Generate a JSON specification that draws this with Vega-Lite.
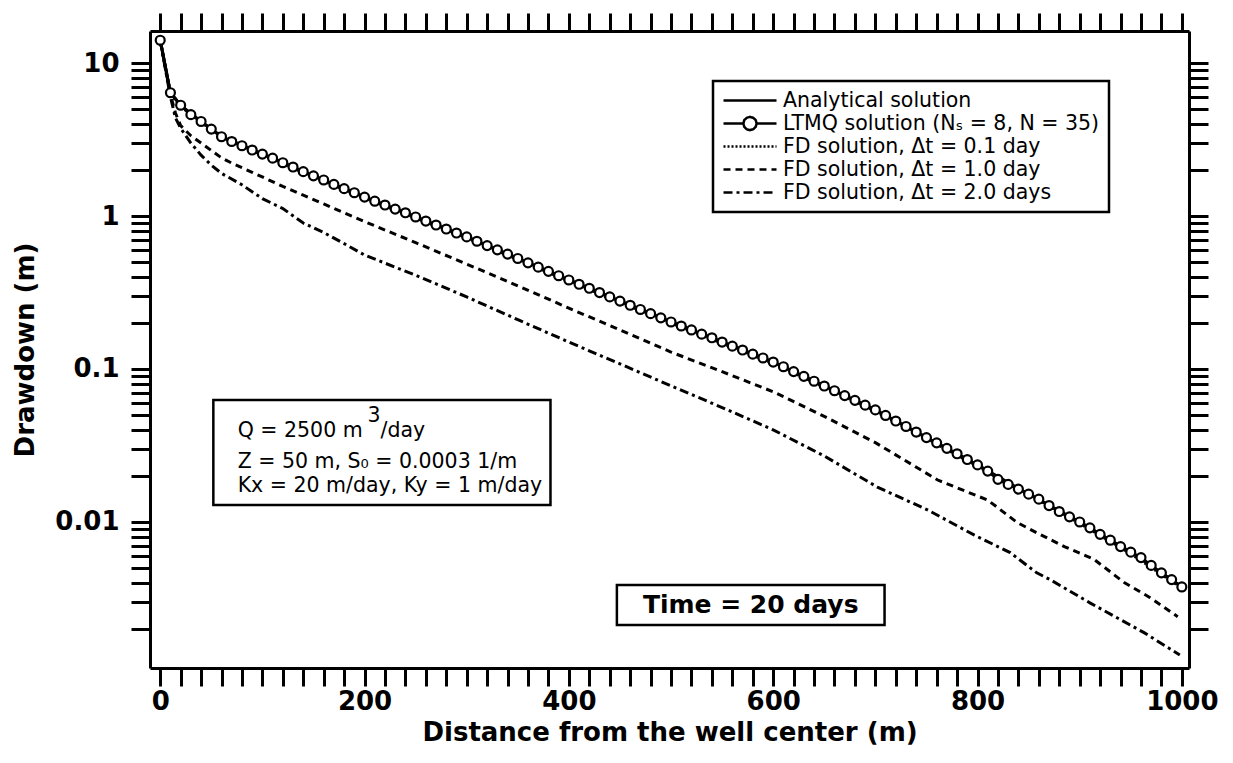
{
"$schema": "https://vega.github.io/schema/vega-lite/v6.json",
"width": 1039, "height": 637,
"autosize": {"type": "none"},
"padding": {"left": 150, "top": 31, "right": 44, "bottom": 95},
"background": "white",
"config": {"view": {"stroke": null}, "font": "DejaVu Sans"},
"datasets": {
"curves": [
{"k":"L","x":0,"s":14.1},{"k":"L","x":10,"s":6.4},{"k":"L","x":20,"s":5.3},{"k":"L","x":30,"s":4.6},{"k":"L","x":40,"s":4.15},{"k":"L","x":50,"s":3.7},{"k":"L","x":60,"s":3.3},{"k":"L","x":70,"s":3.07},{"k":"L","x":80,"s":2.88},{"k":"L","x":90,"s":2.7},{"k":"L","x":100,"s":2.54},{"k":"L","x":110,"s":2.39},{"k":"L","x":120,"s":2.23},{"k":"L","x":130,"s":2.09},{"k":"L","x":140,"s":1.95},{"k":"L","x":150,"s":1.83},{"k":"L","x":160,"s":1.72},{"k":"L","x":170,"s":1.61},{"k":"L","x":180,"s":1.51},{"k":"L","x":190,"s":1.42},{"k":"L","x":200,"s":1.33},{"k":"L","x":210,"s":1.25},{"k":"L","x":220,"s":1.18},{"k":"L","x":230,"s":1.11},{"k":"L","x":240,"s":1.05},{"k":"L","x":250,"s":0.986},{"k":"L","x":260,"s":0.927},{"k":"L","x":270,"s":0.873},{"k":"L","x":280,"s":0.822},{"k":"L","x":290,"s":0.774},{"k":"L","x":300,"s":0.730},{"k":"L","x":310,"s":0.684},{"k":"L","x":320,"s":0.641},{"k":"L","x":330,"s":0.601},{"k":"L","x":340,"s":0.564},{"k":"L","x":350,"s":0.528},{"k":"L","x":360,"s":0.494},{"k":"L","x":370,"s":0.463},{"k":"L","x":380,"s":0.435},{"k":"L","x":390,"s":0.407},{"k":"L","x":400,"s":0.382},{"k":"L","x":410,"s":0.358},{"k":"L","x":420,"s":0.337},{"k":"L","x":430,"s":0.316},{"k":"L","x":440,"s":0.296},{"k":"L","x":450,"s":0.278},{"k":"L","x":460,"s":0.261},{"k":"L","x":470,"s":0.245},{"k":"L","x":480,"s":0.230},{"k":"L","x":490,"s":0.216},{"k":"L","x":500,"s":0.203},{"k":"L","x":510,"s":0.191},{"k":"L","x":520,"s":0.180},{"k":"L","x":530,"s":0.169},{"k":"L","x":540,"s":0.160},{"k":"L","x":550,"s":0.150},{"k":"L","x":560,"s":0.141},{"k":"L","x":570,"s":0.133},{"k":"L","x":580,"s":0.125},{"k":"L","x":590,"s":0.118},{"k":"L","x":600,"s":0.111},{"k":"L","x":610,"s":0.1035},{"k":"L","x":620,"s":0.0962},{"k":"L","x":630,"s":0.0895},{"k":"L","x":640,"s":0.0832},{"k":"L","x":650,"s":0.0774},{"k":"L","x":660,"s":0.0721},{"k":"L","x":670,"s":0.0670},{"k":"L","x":680,"s":0.0624},{"k":"L","x":690,"s":0.0580},{"k":"L","x":700,"s":0.0540},{"k":"L","x":710,"s":0.0497},{"k":"L","x":720,"s":0.0457},{"k":"L","x":730,"s":0.0421},{"k":"L","x":740,"s":0.0387},{"k":"L","x":750,"s":0.0356},{"k":"L","x":760,"s":0.0329},{"k":"L","x":770,"s":0.0303},{"k":"L","x":780,"s":0.0279},{"k":"L","x":790,"s":0.0256},{"k":"L","x":800,"s":0.0236},{"k":"L","x":810,"s":0.0215},{"k":"L","x":820,"s":0.0190},{"k":"L","x":830,"s":0.0176},{"k":"L","x":840,"s":0.0164},{"k":"L","x":850,"s":0.0152},{"k":"L","x":860,"s":0.0141},{"k":"L","x":870,"s":0.0128},{"k":"L","x":880,"s":0.0117},{"k":"L","x":890,"s":0.0108},{"k":"L","x":900,"s":0.0100},{"k":"L","x":910,"s":0.00915},{"k":"L","x":920,"s":0.00830},{"k":"L","x":930,"s":0.00760},{"k":"L","x":940,"s":0.00690},{"k":"L","x":950,"s":0.00635},{"k":"L","x":960,"s":0.00585},{"k":"L","x":970,"s":0.00520},{"k":"L","x":980,"s":0.00465},{"k":"L","x":990,"s":0.00420},{"k":"L","x":1000,"s":0.00376},
{"k":"A","x":0,"s":14.1},{"k":"A","x":10,"s":6.4},{"k":"A","x":20,"s":5.3},{"k":"A","x":40,"s":4.15},{"k":"A","x":60,"s":3.3},{"k":"A","x":80,"s":2.88},{"k":"A","x":100,"s":2.54},{"k":"A","x":120,"s":2.23},{"k":"A","x":140,"s":1.95},{"k":"A","x":160,"s":1.72},{"k":"A","x":180,"s":1.51},{"k":"A","x":200,"s":1.33},{"k":"A","x":250,"s":0.986},{"k":"A","x":300,"s":0.730},{"k":"A","x":350,"s":0.528},{"k":"A","x":400,"s":0.382},{"k":"A","x":450,"s":0.278},{"k":"A","x":500,"s":0.203},{"k":"A","x":550,"s":0.150},{"k":"A","x":600,"s":0.111},{"k":"A","x":650,"s":0.0774},{"k":"A","x":700,"s":0.0540},{"k":"A","x":750,"s":0.0356},{"k":"A","x":800,"s":0.0236},{"k":"A","x":850,"s":0.0152},{"k":"A","x":900,"s":0.0100},{"k":"A","x":950,"s":0.00635},{"k":"A","x":1000,"s":0.00376},
{"k":"F1","x":0,"s":14.1},{"k":"F1","x":10,"s":6.3},{"k":"F1","x":20,"s":5.2},{"k":"F1","x":50,"s":3.65},{"k":"F1","x":100,"s":2.5},{"k":"F1","x":150,"s":1.8},{"k":"F1","x":200,"s":1.31},{"k":"F1","x":250,"s":0.97},{"k":"F1","x":300,"s":0.72},{"k":"F1","x":350,"s":0.52},{"k":"F1","x":400,"s":0.375},{"k":"F1","x":450,"s":0.273},{"k":"F1","x":500,"s":0.2},{"k":"F1","x":550,"s":0.147},{"k":"F1","x":600,"s":0.109},{"k":"F1","x":650,"s":0.076},{"k":"F1","x":700,"s":0.053},{"k":"F1","x":750,"s":0.035},{"k":"F1","x":800,"s":0.0232},{"k":"F1","x":850,"s":0.015},{"k":"F1","x":900,"s":0.0098},{"k":"F1","x":950,"s":0.0062},{"k":"F1","x":1000,"s":0.0037},
{"k":"F2","x":0,"s":14.1},{"k":"F2","x":10,"s":6.2},{"k":"F2","x":15,"s":4.7},{"k":"F2","x":20,"s":3.9},{"k":"F2","x":30,"s":3.35},{"k":"F2","x":40,"s":3.0},{"k":"F2","x":50,"s":2.68},{"k":"F2","x":60,"s":2.4},{"k":"F2","x":70,"s":2.22},{"k":"F2","x":80,"s":2.07},{"k":"F2","x":90,"s":1.93},{"k":"F2","x":100,"s":1.8},{"k":"F2","x":120,"s":1.56},{"k":"F2","x":140,"s":1.37},{"k":"F2","x":160,"s":1.2},{"k":"F2","x":180,"s":1.05},{"k":"F2","x":200,"s":0.92},{"k":"F2","x":250,"s":0.67},{"k":"F2","x":300,"s":0.485},{"k":"F2","x":350,"s":0.35},{"k":"F2","x":400,"s":0.25},{"k":"F2","x":450,"s":0.18},{"k":"F2","x":500,"s":0.129},{"k":"F2","x":550,"s":0.096},{"k":"F2","x":600,"s":0.071},{"k":"F2","x":650,"s":0.049},{"k":"F2","x":700,"s":0.033},{"k":"F2","x":761,"s":0.0188},{"k":"F2","x":810,"s":0.0139},{"k":"F2","x":839,"s":0.0099},{"k":"F2","x":858,"s":0.0085},{"k":"F2","x":885,"s":0.0069},{"k":"F2","x":914,"s":0.0057},{"k":"F2","x":944,"s":0.0040},{"k":"F2","x":969,"s":0.0032},{"k":"F2","x":996,"s":0.0024},
{"k":"F3","x":0,"s":14.1},{"k":"F3","x":10,"s":6.0},{"k":"F3","x":15,"s":4.37},{"k":"F3","x":20,"s":3.75},{"k":"F3","x":30,"s":3.0},{"k":"F3","x":40,"s":2.5},{"k":"F3","x":50,"s":2.15},{"k":"F3","x":60,"s":1.9},{"k":"F3","x":80,"s":1.6},{"k":"F3","x":100,"s":1.3},{"k":"F3","x":120,"s":1.12},{"k":"F3","x":140,"s":0.9},{"k":"F3","x":160,"s":0.78},{"k":"F3","x":180,"s":0.66},{"k":"F3","x":200,"s":0.556},{"k":"F3","x":250,"s":0.41},{"k":"F3","x":300,"s":0.296},{"k":"F3","x":350,"s":0.21},{"k":"F3","x":400,"s":0.15},{"k":"F3","x":450,"s":0.108},{"k":"F3","x":500,"s":0.0776},{"k":"F3","x":550,"s":0.056},{"k":"F3","x":600,"s":0.040},{"k":"F3","x":650,"s":0.027},{"k":"F3","x":702,"s":0.0169},{"k":"F3","x":751,"s":0.0120},{"k":"F3","x":797,"s":0.0082},{"k":"F3","x":832,"s":0.0063},{"k":"F3","x":858,"s":0.00465},{"k":"F3","x":871,"s":0.0042},{"k":"F3","x":910,"s":0.00296},{"k":"F3","x":963,"s":0.00189},{"k":"F3","x":998,"s":0.00135}
]
},
"layer": [
{
"data": {"name": "curves"},
"mark": {"type": "line", "color": "black", "strokeWidth": 3},
"encoding": {
"x": {"field": "x", "type": "quantitative",
 "scale": {"domain": [-10, 1007], "nice": false, "zero": false},
 "axis": {"orient": "bottom", "values": [0,20,40,60,80,100,120,140,160,180,200,220,240,260,280,300,320,340,360,380,400,420,440,460,480,500,520,540,560,580,600,620,640,660,680,700,720,740,760,780,800,820,840,860,880,900,920,940,960,980,1000],
  "title": "Distance from the well center (m)", "format": "d",
  "labelExpr": "datum.value % 200 === 0 ? datum.label : ''",
  "labelOverlap": false, "labelFlush": false, "grid": false,
  "tickSize": 18, "tickWidth": 3, "tickColor": "black", "domainColor": "black", "domainWidth": 3,
  "labelFont": "DejaVu Sans", "labelFontWeight": "bold", "labelFontSize": 26, "labelColor": "black", "labelPadding": 2,
  "titleFont": "DejaVu Sans", "titleFontWeight": "bold", "titleFontSize": 26, "titleColor": "black", "titlePadding": 5,
  "encode": {"ticks": {"update": {"y2": {"signal": "datum.value % 200 === 0 ? 18 : (datum.value % 100 === 0 ? 12 : 7)"}}}}}},
"y": {"field": "s", "type": "quantitative",
 "scale": {"type": "log", "domain": [0.00111, 16.2], "nice": false},
 "axis": {"orient": "left", "values": [0.002,0.003,0.004,0.005,0.006,0.007,0.008,0.009,0.01,0.02,0.03,0.04,0.05,0.06,0.07,0.08,0.09,0.1,0.2,0.3,0.4,0.5,0.6,0.7,0.8,0.9,1,2,3,4,5,6,7,8,9,10],
  "title": "Drawdown (m)",
  "labelExpr": "datum.value == 10 ? '10' : datum.value == 1 ? '1' : datum.value == 0.1 ? '0.1' : datum.value == 0.01 ? '0.01' : ''",
  "labelOverlap": false, "labelFlush": false, "grid": false,
  "tickSize": 19, "tickWidth": 3, "tickColor": "black", "domainColor": "black", "domainWidth": 3,
  "labelFont": "DejaVu Sans", "labelFontWeight": "bold", "labelFontSize": 26, "labelColor": "black", "labelPadding": 12,
  "titleFont": "DejaVu Sans", "titleFontWeight": "bold", "titleFontSize": 26, "titleColor": "black", "titlePadding": 16,
  "encode": {"ticks": {"update": {"x2": {"signal": "(datum.value == 10 || datum.value == 1 || datum.value == 0.1 || datum.value == 0.01) ? -19 : -8"}}}}}},
"strokeDash": {"field": "k", "type": "nominal",
 "scale": {"domain": ["A", "L", "F1", "F2", "F3"], "range": [[1, 0], [1, 0], [2, 2], [7, 5], [9, 4, 3, 4]]},
 "legend": {"orient": "none", "legendX": 563, "legendY": 50, "title": null,
  "symbolType": "stroke", "symbolSize": 2809, "symbolStrokeWidth": 2.5, "symbolStrokeColor": "black", "symbolFillColor": "white",
  "labelFont": "DejaVu Sans", "labelFontSize": 20.5, "labelColor": "black", "labelLimit": 600, "labelOffset": 5,
  "padding": 9, "strokeColor": "black", "rowPadding": 2, "clipHeight": 21,
  "labelExpr": "datum.label === 'A' ? 'Analytical solution' : datum.label === 'L' ? 'LTMQ solution (Nₛ = 8, N = 35)' : datum.label === 'F1' ? 'FD solution, Δt = 0.1 day' : datum.label === 'F2' ? 'FD solution, Δt = 1.0 day' : 'FD solution, Δt = 2.0 days'",
  "encode": {
   "symbols": {"update": {"shape": {"signal": "datum.value === 'L' ? 'M-1,0L-0.25,0M0.25,0L1,0M0.25,0L0.2165,0.125L0.125,0.2165L0,0.25L-0.125,0.2165L-0.2165,0.125L-0.25,0L-0.2165,-0.125L-0.125,-0.2165L0,-0.25L0.125,-0.2165L0.2165,-0.125Z' : 'stroke'"}}},
   "legend": {"update": {"strokeWidth": {"value": 2.5}}}
  }}}
}
},
{
"data": {"name": "curves"},
"transform": [{"filter": "datum.k === 'L'"}],
"mark": {"type": "point", "shape": "circle", "size": 80, "filled": false, "fill": "white", "fillOpacity": 1, "stroke": "black", "strokeWidth": 2.2, "opacity": 1},
"encoding": {
"x": {"field": "x", "type": "quantitative",
 "axis": {"orient": "top", "values": [0,20,40,60,80,100,120,140,160,180,200,220,240,260,280,300,320,340,360,380,400,420,440,460,480,500,520,540,560,580,600,620,640,660,680,700,720,740,760,780,800,820,840,860,880,900,920,940,960,980,1000],
  "title": null, "labels": false, "grid": false,
  "tickSize": 18, "tickWidth": 3, "tickColor": "black", "domainColor": "black", "domainWidth": 3,
  "encode": {"ticks": {"update": {"y2": {"signal": "datum.value % 200 === 0 ? -18 : (datum.value % 100 === 0 ? -12 : -7)"}}}}}},
"y": {"field": "s", "type": "quantitative",
 "axis": {"orient": "right", "values": [0.002,0.003,0.004,0.005,0.006,0.007,0.008,0.009,0.01,0.02,0.03,0.04,0.05,0.06,0.07,0.08,0.09,0.1,0.2,0.3,0.4,0.5,0.6,0.7,0.8,0.9,1,2,3,4,5,6,7,8,9,10],
  "title": null, "labels": false, "grid": false,
  "tickSize": 19, "tickWidth": 3, "tickColor": "black", "domainColor": "black", "domainWidth": 3,
  "encode": {"ticks": {"update": {"x2": {"signal": "(datum.value == 10 || datum.value == 1 || datum.value == 0.1 || datum.value == 0.01) ? 19 : 8"}}}}}}
}
},
{
"data": {"values": [{}]},
"mark": {"type": "rect", "fill": "white", "stroke": "black", "strokeWidth": 2.5},
"encoding": {
"x": {"datum": 52, "type": "quantitative", "axis": null},
"x2": {"datum": 382},
"y": {"datum": 0.0628, "type": "quantitative", "axis": null},
"y2": {"datum": 0.0129}
}
},
{
"data": {"values": [{}]},
"mark": {"type": "text", "align": "left", "baseline": "alphabetic", "font": "DejaVu Sans", "fontSize": 20.5, "color": "black"},
"encoding": {
"x": {"datum": 75.8, "type": "quantitative", "axis": null},
"y": {"datum": 0.036, "type": "quantitative", "axis": null},
"text": {"value": "Q = 2500 m"}
}
},
{
"data": {"values": [{}]},
"mark": {"type": "text", "align": "left", "baseline": "alphabetic", "font": "DejaVu Sans", "fontSize": 20.5, "color": "black"},
"encoding": {
"x": {"datum": 203, "type": "quantitative", "axis": null},
"y": {"datum": 0.0451, "type": "quantitative", "axis": null},
"text": {"value": "3"}
}
},
{
"data": {"values": [{}]},
"mark": {"type": "text", "align": "left", "baseline": "alphabetic", "font": "DejaVu Sans", "fontSize": 20.5, "color": "black"},
"encoding": {
"x": {"datum": 215.7, "type": "quantitative", "axis": null},
"y": {"datum": 0.036, "type": "quantitative", "axis": null},
"text": {"value": "/day"}
}
},
{
"data": {"values": [{}]},
"mark": {"type": "text", "align": "left", "baseline": "alphabetic", "font": "DejaVu Sans", "fontSize": 20.5, "color": "black"},
"encoding": {
"x": {"datum": 75.8, "type": "quantitative", "axis": null},
"y": {"datum": 0.02256, "type": "quantitative", "axis": null},
"text": {"value": "Z = 50 m, S₀ = 0.0003 1/m"}
}
},
{
"data": {"values": [{}]},
"mark": {"type": "text", "align": "left", "baseline": "alphabetic", "font": "DejaVu Sans", "fontSize": 20.5, "color": "black"},
"encoding": {
"x": {"datum": 75.8, "type": "quantitative", "axis": null},
"y": {"datum": 0.01572, "type": "quantitative", "axis": null},
"text": {"value": "Kx = 20 m/day, Ky = 1 m/day"}
}
},
{
"data": {"values": [{}]},
"mark": {"type": "rect", "fill": "white", "stroke": "black", "strokeWidth": 2.5},
"encoding": {
"x": {"datum": 447, "type": "quantitative", "axis": null},
"x2": {"datum": 709},
"y": {"datum": 0.003879, "type": "quantitative", "axis": null},
"y2": {"datum": 0.002123}
}
},
{
"data": {"values": [{}]},
"mark": {"type": "text", "align": "center", "baseline": "middle", "font": "DejaVu Sans", "fontWeight": "bold", "fontSize": 25, "color": "black"},
"encoding": {
"x": {"datum": 578, "type": "quantitative", "axis": null},
"y": {"datum": 0.00287, "type": "quantitative", "axis": null},
"text": {"value": "Time = 20 days"}
}
}
],
"resolve": {"axis": {"x": "independent", "y": "independent"}}
}
